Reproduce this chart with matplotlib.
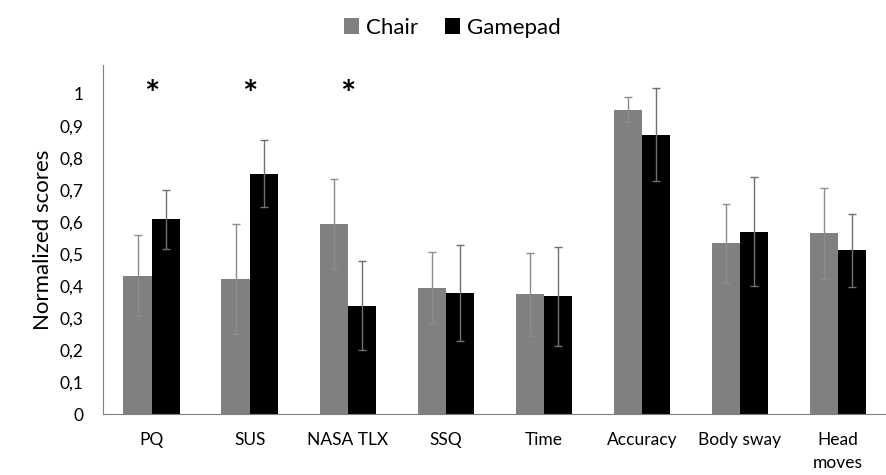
import matplotlib.pyplot as plt
import numpy as np

plt.rcParams['font.family'] = ['Lato', 'DejaVu Sans']

categories = ["PQ", "SUS", "NASA TLX", "SSQ", "Time", "Accuracy", "Body sway", "Head\nmoves"]
chair = [0.432, 0.422, 0.593, 0.395, 0.374, 0.951, 0.533, 0.565]
chair_err = [0.126, 0.171, 0.140, 0.111, 0.129, 0.040, 0.124, 0.142]
gamepad = [0.608, 0.751, 0.339, 0.378, 0.368, 0.873, 0.570, 0.512]
gamepad_err = [0.092, 0.104, 0.140, 0.150, 0.155, 0.146, 0.170, 0.114]
significant = ["PQ", "SUS", "NASA TLX"]
yticks = np.round(np.arange(0, 1.01, 0.1), 1)

fig = plt.figure(figsize=(8.87, 4.75), dpi=100)
ax = fig.add_axes([0.116, 0.128, 0.884, 0.735])

x = np.arange(len(categories))
w = 0.29
ax.bar(x - w / 2, chair, w, color="#808080", label="Chair",
       yerr=chair_err, error_kw=dict(ecolor="#8c8c8c", elinewidth=1, capsize=3, capthick=1))
ax.bar(x + w / 2, gamepad, w, color="black", label="Gamepad",
       yerr=gamepad_err, error_kw=dict(ecolor="#707070", elinewidth=1, capsize=3, capthick=1))

for i, c in enumerate(categories):
    if c in significant:
        ax.text(i, 0.995, "*", ha="center", va="center", fontsize=26, fontweight="bold")

ax.set_xlim(-0.5, len(categories) - 0.5)
ax.set_ylim(0, 1.09)
ax.set_xticks(x)
ax.set_xticklabels(categories, fontsize=12.5, va="top", linespacing=1.5)
ax.set_yticks(yticks)
ax.set_yticklabels([("%g" % v).replace(".", ",") for v in yticks], fontsize=12.5)
ax.tick_params(length=0)
ax.tick_params(axis="y", pad=14)
ax.tick_params(axis="x", pad=13)
ax.set_ylabel("Normalized scores", fontsize=16, labelpad=5)

for s in ["top", "right"]:
    ax.spines[s].set_visible(False)
for s in ["left", "bottom"]:
    ax.spines[s].set_color("#7f7f7f")

fig.legend(loc="upper center", bbox_to_anchor=(0.51, 1.005), ncol=2, frameon=False,
           fontsize=16, handlelength=0.7, handleheight=0.7, columnspacing=1.2, handletextpad=0.3)

fig.savefig("out.png", dpi=100)
